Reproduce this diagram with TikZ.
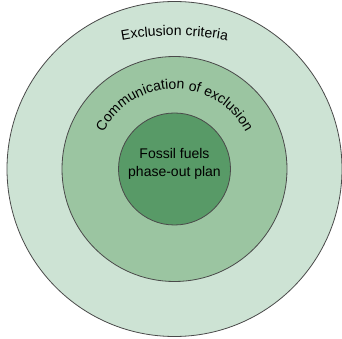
\documentclass[tikz,border=0pt]{standalone}
\usepackage{fontspec}
\setmainfont{Liberation Sans}
\usetikzlibrary{decorations.text,positioning}
\definecolor{outerfill}{HTML}{CDE3D4}
\definecolor{midfill}{HTML}{9BC5A1}
\definecolor{innerfill}{HTML}{589A67}
\definecolor{ringline}{HTML}{4A4A4A}
\newcommand\ringfont{\fontsize{14}{18.5}\selectfont}
\tikzset{
    ring/.style={circle, draw=ringline, line width=0.8pt, inner sep=0pt},
    arclabel/.style={decoration={text along path, text align=center, text={#1}}, decorate}
}

\begin{document}
\begin{tikzpicture}[x=1pt, y=1pt]
                        \useasboundingbox (-174.5, -170) rectangle (167.5, 169);
                        \node[ring, fill=outerfill, minimum size=335pt] (crit) at (0, 0) {};
                        \node[ring, fill=midfill, minimum size=225pt] (comm) at (0, 0) {};
                        \node[ring, fill=innerfill, minimum size=112pt] (plan) at (0, 0) {};
                        \node[align=center, font=\ringfont] (plantext) at (0, 5) {Fossil fuels\\phase-out plan};
                        \path[arclabel={|\ringfont|Exclusion criteria}]
                        (0, -146.5) ++(120:280) arc[start angle=120, end angle=60, radius=280];
                        \path[arclabel={|\ringfont|Communication of exclusion}]
                        (160:80) arc[start angle=160, end angle=20, radius=80];
                    \end{tikzpicture}
\end{document}
